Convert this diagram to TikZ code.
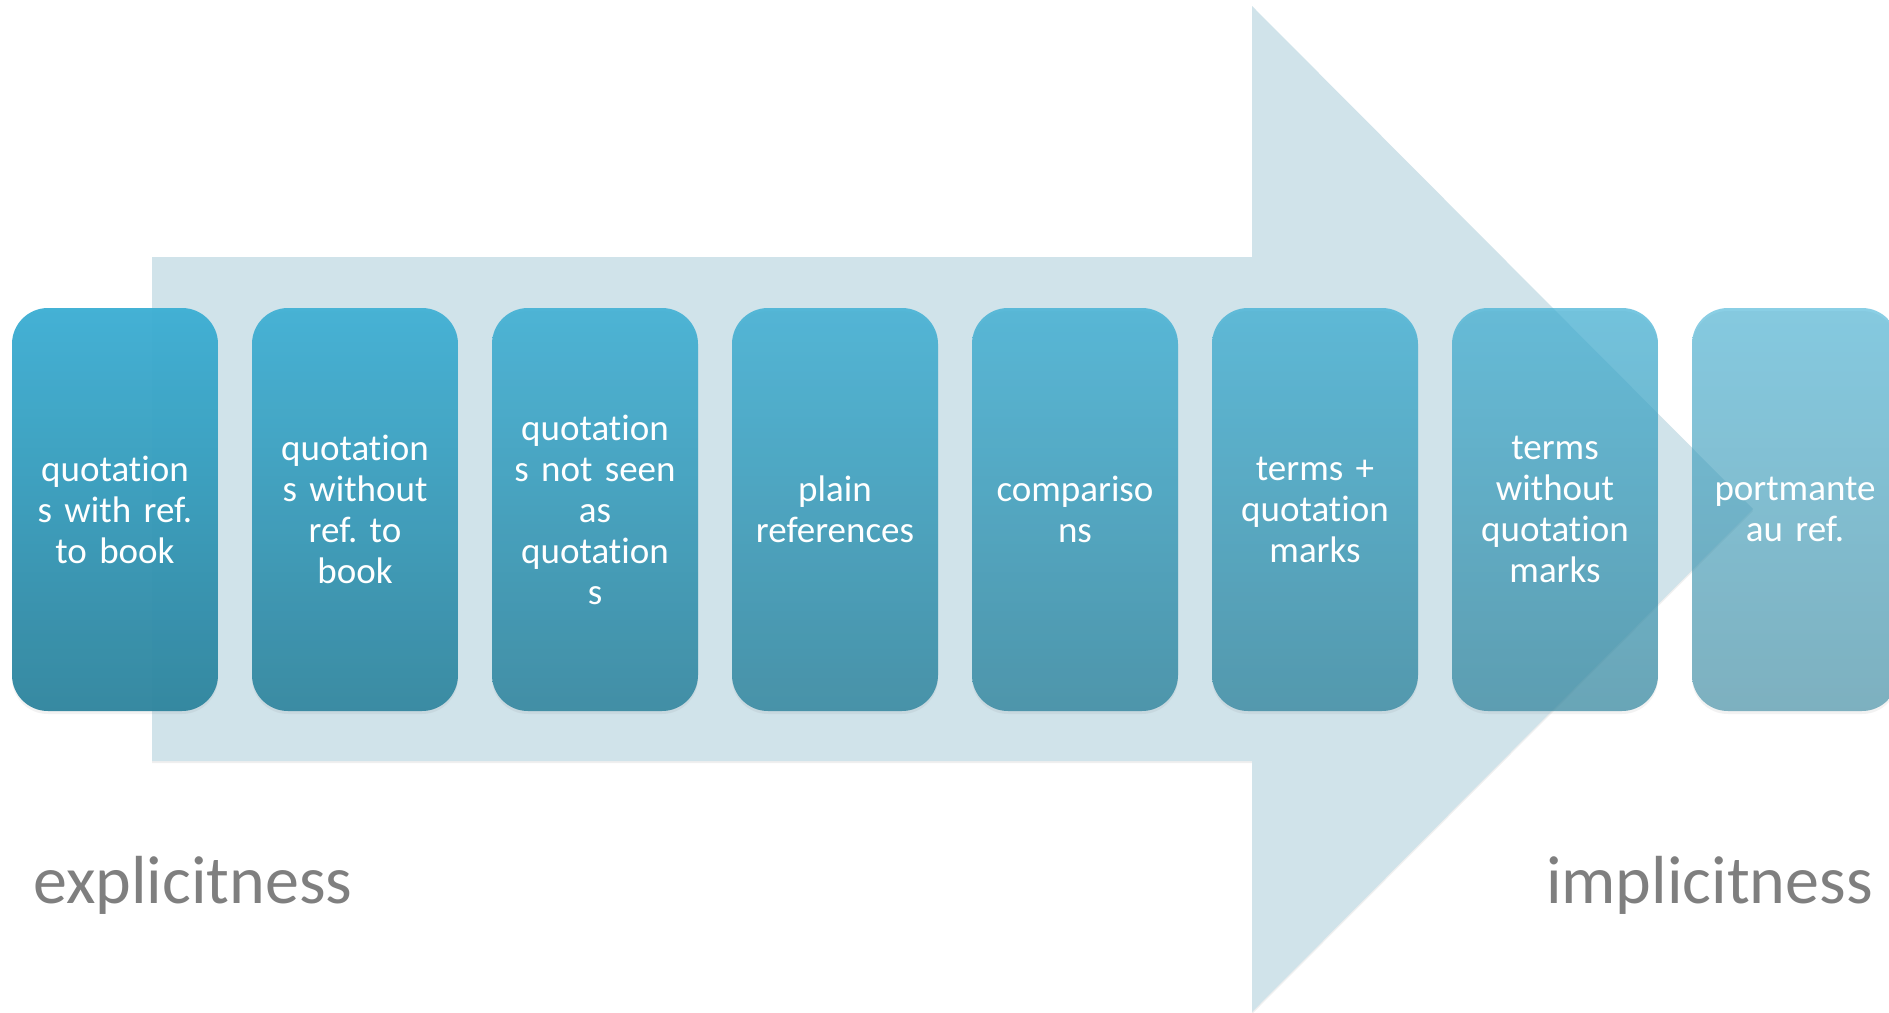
\documentclass[tikz,border=0pt]{standalone}
\usepackage{fontspec}
\setmainfont{Carlito}[Ligatures=NoCommon]
\usetikzlibrary{shadows}
\frenchspacing
\definecolor{arrowfill}{HTML}{D0E3EA}
\definecolor{boxtop}{HTML}{3DAFD4}
\definecolor{boxbot}{HTML}{30859E}
\definecolor{labelgrey}{HTML}{7F7F7F}
\tikzset{
  stagebox/.style={rounded corners=36pt, minimum width=206pt, minimum height=403pt,
    inner sep=0pt, text width=190pt, align=center, text=white,
    top color=boxtop, bottom color=boxbot, text opacity=1,
    drop shadow={opacity=0.10, shadow xshift=0pt, shadow yshift=-3pt},
    font=\fontsize{37}{41}\selectfont},
  endlabel/.style={text=labelgrey, font=\fontsize{68}{80}\selectfont, inner sep=0pt}
}
\begin{document}
\begin{tikzpicture}[x=1pt,y=-1pt]
\useasboundingbox (0,0) rectangle (1889,1012);
\clip (0,0) rectangle (1889,1012);
\fill[white] (0,0) rectangle (1889,1012);
% big arrow
\fill[arrowfill, drop shadow={opacity=0.12, shadow xshift=0pt, shadow yshift=-2pt}]
  (152,257) -- (1252,257) -- (1252,6) -- (1753,509) -- (1252,1012) -- (1252,761) -- (152,761) -- cycle;
% boxes
\node[stagebox, fill opacity=0.96] (b1) at (115,509.5) {quotation\\s with ref.\\to book};
\node[stagebox, fill opacity=0.92] (b2) at (355,509.5) {quotation\\s without\\ref. to\\book};
\node[stagebox, fill opacity=0.88] (b3) at (595,509.5) {quotation\\s not seen\\as\\quotation\\s};
\node[stagebox, fill opacity=0.84] (b4) at (835,509.5) {plain\\references};
\node[stagebox, fill opacity=0.80] (b5) at (1075,509.5) {compariso\\ns};
\node[stagebox, fill opacity=0.76] (b6) at (1315,509.5) {terms +\\quotation\\marks};
\node[stagebox, fill opacity=0.70] (b7) at (1555,509.5) {terms\\without\\quotation\\marks};
\node[stagebox, fill opacity=0.60] (b8) at (1795,509.5) {portmante\\au ref.};
% end labels
\node[endlabel, anchor=base west] (ex) at (33,903) {explicitness};
\node[endlabel, anchor=base east] (im) at (1873,903) {implicitness};
\end{tikzpicture}
\end{document}
